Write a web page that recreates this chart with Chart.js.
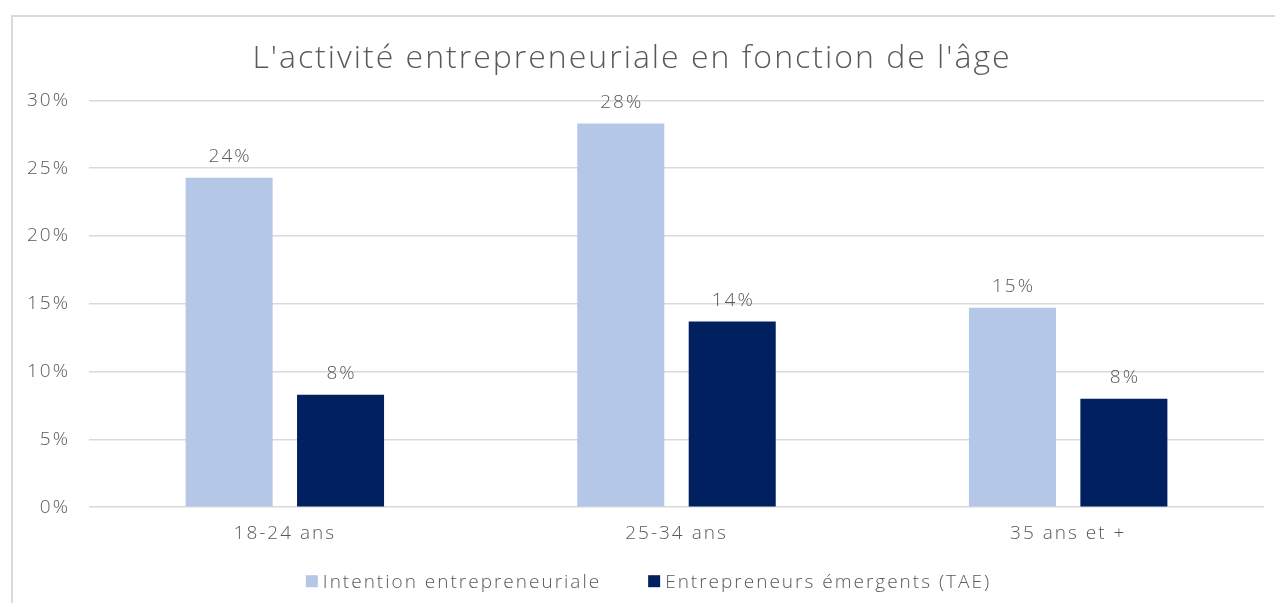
<!DOCTYPE html>
<html>
<head>
<meta charset="utf-8">
<script src="https://cdn.jsdelivr.net/npm/chart.js@4"></script>
<style>
  html, body { margin: 0; padding: 0; background: #fff; overflow: hidden; }
  #frame {
    position: absolute; left: 11px; top: 15px;
    width: 1300px; height: 620px;
    border: 2px solid #d9d9d9;
  }
  #chart { position: absolute; left: 0; top: 0; }
</style>
</head>
<body>
<div id="frame"></div>
<canvas id="chart" width="1275" height="603"></canvas>
<script>
const categories = ['18-24 ans', '25-34 ans', '35 ans et +'];
const intention = [24.3, 28.3, 14.7];
const emergents = [8.3, 13.7, 8.0];
const yTicks = [0, 5, 10, 15, 20, 25, 30];

const grey = '#595959';
const fontFamily = "'Open Sans', sans-serif";
const textFont = { family: fontFamily, size: 19, weight: 300 };

// wider tracking for every text drawn on the canvas
const tracking = {
    id: 'tracking',
    beforeUpdate(chart) { chart.ctx.letterSpacing = '2px'; },
    beforeDraw(chart) { chart.ctx.letterSpacing = '2px'; }
};

// value labels above each bar
const barLabels = {
    id: 'barLabels',
    afterDatasetsDraw(chart) {
        const ctx = chart.ctx;
        ctx.save();
        ctx.font = '300 19px ' + fontFamily;
        ctx.fillStyle = grey;
        ctx.textAlign = 'center';
        ctx.textBaseline = 'middle';
        chart.data.datasets.forEach((ds, i) => {
            chart.getDatasetMeta(i).data.forEach((bar, j) => {
                ctx.fillText(Math.round(ds.data[j]) + '%', bar.x + 1, bar.y - 21);
            });
        });
        ctx.restore();
    }
};

// legend row under the category labels, with a wide gap between entries
const bottomLegend = {
    id: 'bottomLegend',
    afterDraw(chart) {
        const ctx = chart.ctx;
        const box = 12, gap = 5, itemGap = 47;
        ctx.save();
        ctx.font = '300 19px ' + fontFamily;
        ctx.textBaseline = 'middle';
        ctx.textAlign = 'left';
        const items = chart.data.datasets.map(ds => ({
            text: ds.label,
            color: ds.backgroundColor,
            w: box + gap + ctx.measureText(ds.label).width
        }));
        const total = items.reduce((s, it) => s + it.w, 0) + itemGap * (items.length - 1);
        const area = chart.chartArea;
        let x = (area.left + area.right) / 2 - 28 - total / 2;
        const y = area.bottom + 74;
        items.forEach(it => {
            ctx.fillStyle = it.color;
            ctx.fillRect(x, y - box / 2, box, box);
            ctx.fillStyle = grey;
            ctx.fillText(it.text, x + box + gap, y + 1);
            x += it.w + itemGap;
        });
        ctx.restore();
    }
};

new Chart(document.getElementById('chart'), {
    type: 'bar',
    data: {
        labels: categories,
        datasets: [{
            label: 'Intention entrepreneuriale',
            data: intention,
            backgroundColor: '#b4c7e7',
            categoryPercentage: 0.569,
            barPercentage: 0.781
        }, {
            label: 'Entrepreneurs émergents (TAE)',
            data: emergents,
            backgroundColor: '#002060',
            categoryPercentage: 0.569,
            barPercentage: 0.781
        }]
    },
    options: {
        responsive: false,
        animation: false,
        layout: { padding: { left: 0, right: 11, top: 22, bottom: 43 } },
        plugins: {
            title: {
                display: true,
                text: "L'activité entrepreneuriale en fonction de l'âge",
                color: grey,
                font: { family: fontFamily, size: 32, weight: 300 },
                padding: { top: 18, bottom: 22 }
            },
            legend: { display: false },
            tooltip: { enabled: false }
        },
        scales: {
            x: {
                grid: { display: false, drawTicks: false },
                border: { display: false },
                ticks: { color: grey, font: textFont, padding: 15 }
            },
            y: {
                min: 0,
                max: 30,
                afterFit(scale) { scale.width = 89; },
                afterBuildTicks(scale) { scale.ticks = yTicks.map(v => ({ value: v })); },
                grid: { color: '#d9d9d9', lineWidth: 1.5, drawTicks: false },
                border: { display: false },
                ticks: {
                    color: grey,
                    font: textFont,
                    padding: 19,
                    callback: v => v + '%'
                }
            }
        }
    },
    plugins: [tracking, barLabels, bottomLegend]
});
</script>
</body>
</html>
